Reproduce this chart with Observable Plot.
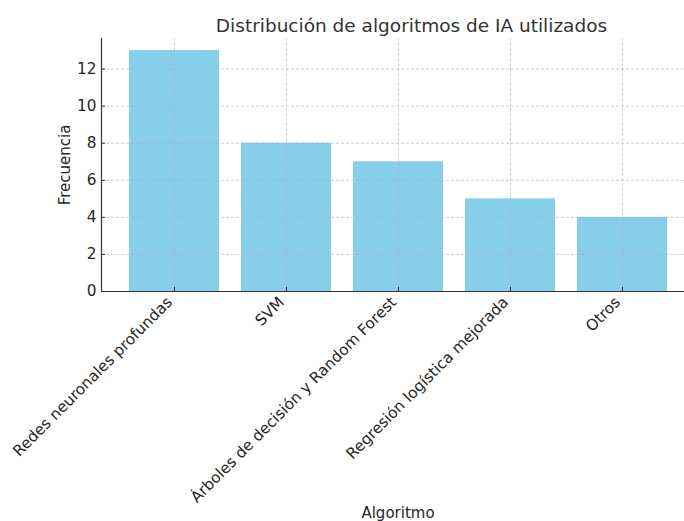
<!DOCTYPE html>
<html>
<head>
<meta charset="utf-8">
<script src="https://cdn.jsdelivr.net/npm/d3@7"></script>
<script src="https://cdn.jsdelivr.net/npm/@observablehq/plot@0.6"></script>
<style>
  html, body { margin: 0; padding: 0; background: #fff; }
  #chart { width: 684px; height: 521px; overflow: hidden; }
  svg { font-family: "DejaVu Sans", sans-serif; }
</style>
</head>
<body>
<div id="chart"></div>
<script>
const categories = [
  "Redes neuronales profundas",
  "SVM",
  "Árboles de decisión y Random Forest",
  "Regresión logística mejorada",
  "Otros"
];
const frequencies = [13, 8, 7, 5, 4];
const yTicks = [0, 2, 4, 6, 8, 10, 12];
const titleText = "Distribución de algoritmos de IA utilizados";
const xLabel = "Algoritmo";
const yLabel = "Frecuencia";

const data = categories.map((c, i) => ({algoritmo: c, frecuencia: frequencies[i]}));

const gridStyle = {stroke: "#b0b0b0", strokeOpacity: 0.8, strokeWidth: 0.8, strokeDasharray: "3,2"};

const chart = Plot.plot({
  width: 684,
  height: 521,
  marginTop: 38,
  marginBottom: 230,
  marginLeft: 101,
  marginRight: 0,
  style: {fontFamily: "DejaVu Sans, sans-serif", fontSize: "15px", color: "#262626", background: "#fff", overflow: "visible"},
  x: {domain: categories, range: [101, 694], paddingInner: 0.2, paddingOuter: 0.24, label: null},
  y: {domain: [0, 13.65], label: null},
  marks: [
    Plot.barY(data, {x: "algoritmo", y: "frecuencia", fill: "#87CEEB"}),
    Plot.gridY(yTicks, gridStyle),
    Plot.gridX(categories, gridStyle),
    Plot.axisY(yTicks, {tickSize: 0, tickPadding: 5, fill: "#262626", fontSize: 15.3, label: null}),
    Plot.axisY(yTicks, {tickSize: -4, tickFormat: () => "", stroke: "#333", label: null}),
    Plot.axisX(categories, {tickSize: -4, tickFormat: () => "", stroke: "#333", label: null}),
    Plot.text(categories, {x: d => d, frameAnchor: "bottom", rotate: -45, textAnchor: "end", lineAnchor: "top", dy: 4, dx: -9, fontSize: 15.3, fill: "#262626"}),
    Plot.ruleY([0], {stroke: "#333", strokeWidth: 1.2}),
    Plot.frame({anchor: "left", stroke: "#333", strokeWidth: 1.2}),
    Plot.text([yLabel], {frameAnchor: "left", textAnchor: "middle", dx: -36, rotate: -90, fontSize: 15, fill: "#262626"}),
    Plot.text([xLabel], {frameAnchor: "bottom", dy: 226, dx: 5, fontSize: 15, fill: "#262626"}),
    Plot.text([titleText], {frameAnchor: "top", dy: -20, dx: 18.5, fontSize: 18.5, fill: "#333"})
  ]
});
document.getElementById("chart").appendChild(chart);
</script>
</body>
</html>
